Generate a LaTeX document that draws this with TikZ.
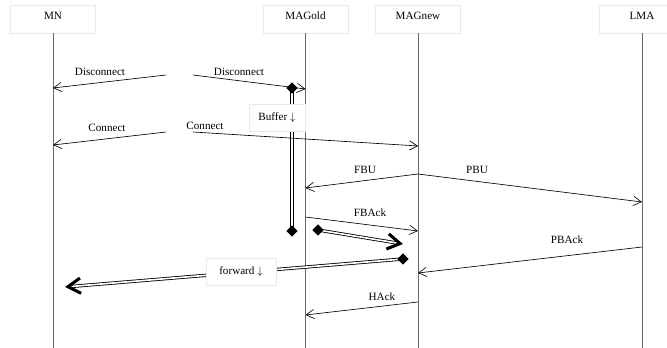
\documentclass[tikz,border=0pt]{standalone}
\usepackage{fontspec}
\setmainfont{Liberation Serif}
\usetikzlibrary{shapes.geometric,arrows.meta,positioning}
\definecolor{lifegray}{RGB}{105,105,105}
\definecolor{boxedge}{RGB}{234,234,234}

\begin{document}
\begin{tikzpicture}[
    x=0.03cm, y=-0.03cm,
    font=\fontsize{9.5}{11}\selectfont,
    actor/.style={rectangle, draw=boxedge, fill=white, minimum width=2.55cm, minimum height=0.84cm,
                 text height=7pt, text depth=6.5pt},
    life/.style={draw=lifegray, line width=0.8pt},
    msg/.style={-{Straight Barb[length=2.4mm,width=2.8mm]}, line width=0.55pt},
    tag/.style={rectangle, draw=boxedge, fill=white, minimum height=0.82cm},
    dmd/.style={diamond, fill=black, inner sep=0pt, minimum size=0.34cm},
    hold/.style={double, double distance=1.6pt, line width=0.7pt},
    fwd/.style={double, double distance=1.4pt, line width=0.7pt,
                -{Straight Barb[length=3.8mm,width=4.6mm,line width=2.6pt]}}
]
\useasboundingbox (0,0) rectangle (667,348);
\coordinate (bottom) at (0,348);
\node[actor] (mn) at (53,19) {MN};
\node[actor] (magold) at (305.5,19) {MAGold};
\node[actor] (magnew) at (418,19) {MAGnew};
\node[actor] (lma) at (642,19) {LMA};
\draw[life] (mn.south) -- (mn |- bottom);
\draw[life] (magold.south) -- (magold |- bottom);
\draw[life] (magnew.south) -- (magnew |- bottom);
\draw[life] (lma.south) -- (lma |- bottom);

\coordinate (dis1) at (166,75);
\coordinate (dis2) at (193,75);
\draw[msg] (dis1) -- (mn |- 0,88);
\draw[msg] (dis2) -- (magold |- 0,89);
\node (ldis1) at (100,72) {Disconnect};
\node (ldis2) at (239,72) {Disconnect};

\coordinate (buftop) at (292,88);
\coordinate (bufend) at (292,231);
\draw[hold] (buftop) -- (bufend);
\node[dmd] (buf1) at (buftop) {};
\node[dmd] (buf2) at (bufend) {};
\node[tag, minimum width=1.68cm] (buffer) at (277,117.5) {Buffer $\downarrow$};

\coordinate (con1) at (166,132);
\coordinate (con2) at (193,132);
\draw[msg] (con1) -- (mn |- 0,145);
\draw[msg] (con2) -- (magnew |- 0,146);
\node (lcon1) at (107,128) {Connect};
\node (lcon2) at (205,126) {Connect};

\draw[msg] (magnew |- 0,174) -- (magold |- 0,188);
\draw[msg] (magnew |- 0,174) -- (lma |- 0,202);
\node (lfbu) at (365,170) {FBU};
\node (lpbu) at (477,170) {PBU};

\draw[msg] (magold |- 0,217) -- (magnew |- 0,231);
\node (lfback) at (370,213) {FBAck};

\coordinate (sw1) at (318,230);
\coordinate (sw2) at (403,244);
\draw[fwd] (sw1) -- (sw2);
\node[dmd] (swd) at (sw1) {};

\draw[msg] (lma |- 0,247) -- (magnew |- 0,273);
\node (lpback) at (567,240) {PBAck};

\coordinate (fw1) at (403,259);
\coordinate (fw2) at (65,287);
\draw[fwd] (fw1) -- (fw2);
\node[dmd] (fwd1) at (fw1) {};
\node[tag, minimum width=2.1cm] (forward) at (241,272) {forward $\downarrow$};

\draw[msg] (magnew |- 0,302) -- (magold |- 0,315);
\node (lhack) at (382,297) {HAck};
\end{tikzpicture}
\end{document}
